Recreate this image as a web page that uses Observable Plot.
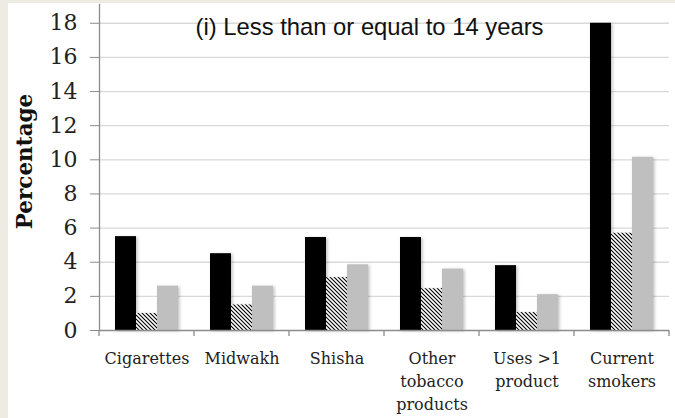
<!DOCTYPE html>
<html><head><meta charset="utf-8">
<script src="https://cdn.jsdelivr.net/npm/d3@7"></script>
<script src="https://cdn.jsdelivr.net/npm/@observablehq/plot@0.6"></script>
<style>
html,body{margin:0;padding:0;background:#EDEBE2;width:675px;height:418px;overflow:hidden;}
#panel{position:absolute;left:8px;top:3px;width:667px;height:415px;background:#fff;}
</style></head><body><div id="panel"></div>
<script>
const categories = ["Cigarettes","Midwakh","Shisha","Other tobacco products","Uses >1 product","Current smokers"];
const categoryLabels = ["Cigarettes","Midwakh","Shisha","Other\ntobacco\nproducts","Uses >1\nproduct","Current\nsmokers"];
const seriesNames = ["Series 1","Series 2","Series 3"];
const series1 = [5.5, 4.5, 5.45, 5.45, 3.8, 18.0];
const series2 = [1.0, 1.5, 3.1, 2.45, 1.05, 5.7];
const series3 = [2.6, 2.6, 3.85, 3.6, 2.1, 10.15];
const yTicks = [0, 2, 4, 6, 8, 10, 12, 14, 16, 18];
const title = "(i) Less than or equal to 14 years";
const yLabel = "Percentage";

const seriesValues = [series1, series2, series3];
const seriesFill = ["#000000", "url(#hatch)", "#BFBFBF"];
const rows = [];
seriesValues.forEach((vals, s) => vals.forEach((v, i) => rows.push({category: categories[i], series: seriesNames[s], value: v})));

// bar placement within each category band (px)
const barW = 21, bandW = 95, groupOff = (bandW - 3 * barW) / 2;
const serif = "'DejaVu Serif', serif";
const axisGray = "#8C8C8C";

const boundaryTicks = (index, scales, values, dims) => {
  const x = scales.x, y = scales.y;
  const g = d3.create("svg:g").attr("stroke", axisGray).attr("stroke-width", 1.3);
  const y0 = y(0);
  const xs = categories.map(c => x(c)).concat([x(categories[categories.length - 1]) + x.bandwidth()]);
  xs.forEach(px => g.append("line").attr("x1", px).attr("x2", px).attr("y1", y0).attr("y2", y0 + 6));
  return g.node();
};

const barMarks = seriesNames.map((s, k) => Plot.barY(rows.filter(r => r.series === s), {
  x: "category", y: "value", fill: seriesFill[k],
  insetLeft: groupOff + k * barW, insetRight: groupOff + (2 - k) * barW
}));

const chart = Plot.plot({
  width: 667, height: 415,
  marginTop: 1, marginBottom: 88, marginLeft: 91, marginRight: 6,
  style: {fontFamily: serif, background: "white", color: "#222"},
  x: {domain: categories, padding: 0},
  y: {domain: [0, 19.1]},
  marks: [
    Plot.gridY(yTicks.filter(t => t > 0), {stroke: "#D9D9D9", strokeOpacity: 1, strokeWidth: 1.3}),
    ...barMarks,
    Plot.ruleY([0], {stroke: axisGray, strokeWidth: 1.3}),
    Plot.frame({anchor: "left", stroke: axisGray, strokeWidth: 1.3}),
    Plot.axisY({ticks: yTicks, tickSize: 9, tickPadding: 13, stroke: axisGray, fontSize: 22, fill: "#222", label: null}),
    Plot.axisX({tickSize: 0, tickPadding: 17, fontSize: 16, lineHeight: 1.45, fill: "#222", label: null,
      tickFormat: c => categoryLabels[categories.indexOf(c)]}),
    boundaryTicks,
    Plot.text([yLabel], {frameAnchor: "left", textAnchor: "middle", rotate: -90, dx: -74, dy: -6,
      fontWeight: "bold", fontSize: 21.5, fill: "#111"}),
    Plot.text([title], {frameAnchor: "top", lineAnchor: "bottom", dy: 30.5, dx: -15, fontSize: 23.8,
      fontFamily: "'Liberation Sans', Arial, sans-serif", fill: "#111"})
  ]
});

const svg = d3.select(chart);
const defs = svg.insert("defs", ":first-child");
const pat = defs.append("pattern").attr("id", "hatch").attr("patternUnits", "userSpaceOnUse")
  .attr("width", 4).attr("height", 4);
pat.append("rect").attr("width", 4).attr("height", 4).attr("fill", "white");
pat.append("path").attr("d", "M0,0L4,4M-1,3L1,5M3,-1L5,1").attr("stroke", "black").attr("stroke-width", 1.1);
const filt = defs.append("filter").attr("id", "shadow").attr("x", "-20%").attr("y", "-5%").attr("width", "150%").attr("height", "115%");
filt.append("feDropShadow").attr("dx", 1.5).attr("dy", 1).attr("stdDeviation", 1.5).attr("flood-color", "#000").attr("flood-opacity", 0.25);
svg.selectAll("g[aria-label='bar']").attr("filter", "url(#shadow)");

document.getElementById("panel").appendChild(chart);
</script></body></html>
